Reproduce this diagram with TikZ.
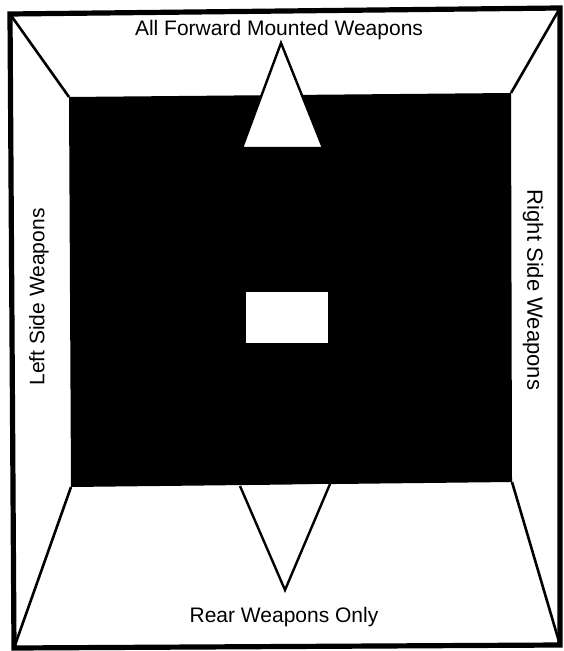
\documentclass[tikz,border=0pt]{standalone}
\usepackage{fontspec}
\setmainfont{Liberation Sans}
\usetikzlibrary{positioning}

\begin{document}
\begin{tikzpicture}[
  x=0.5pt,y=-0.5pt,
  font=\fontsize{10.5}{12}\selectfont,
  frame/.style={line width=2.6pt,line join=miter},
  diag/.style={line width=1.3pt},
  port/.style={draw,line width=1.2pt,fill=white,line join=miter},
  lbl/.style={inner sep=1pt}
]
\useasboundingbox (0,0) rectangle (563,651);
% outer frame corners
\coordinate (oTL) at (10,14);
\coordinate (oTR) at (560,8);
\coordinate (oBR) at (560,645);
\coordinate (oBL) at (14,648);
% inner (hull) corners
\coordinate (iTL) at (69,97);
\coordinate (iTR) at (511,93);
\coordinate (iBR) at (512,482);
\coordinate (iBL) at (71,487);

\fill (iTL) -- (iTR) -- (iBR) -- (iBL) -- cycle;
\draw[diag] (oTL) -- (iTL);
\draw[diag] (oTR) -- (iTR);
\draw[diag] (oBR) -- (iBR);
\draw[diag] (oBL) -- (iBL);
\draw[frame] (oTL) -- (oTR) -- (oBR) -- (oBL) -- cycle;

% forward and rear arcs
\coordinate (fA) at (281,43);
\coordinate (fL) at (242,148);
\coordinate (fR) at (323,148);
\draw[port] (fL) -- (fA) -- (fR) -- cycle;
\coordinate (rA) at (285,590);
\coordinate (rL) at (240,486);
\coordinate (rR) at (330,484);
\draw[port] (rL) -- (rA) -- (rR);

% centre
\fill[white] (246,292) rectangle (328,343);

% labels
\node[lbl] (fwd)   at (279,30)  {All Forward Mounted Weapons};
\node[lbl] (rear)  at (284,617) {Rear Weapons Only};
\node[lbl,rotate=90]  (left)  at (39,297)  {Left Side Weapons};
\node[lbl,rotate=-90,font=\fontsize{11}{12}\selectfont] (right) at (533,290) {Right Side Weapons};
\end{tikzpicture}
\end{document}
